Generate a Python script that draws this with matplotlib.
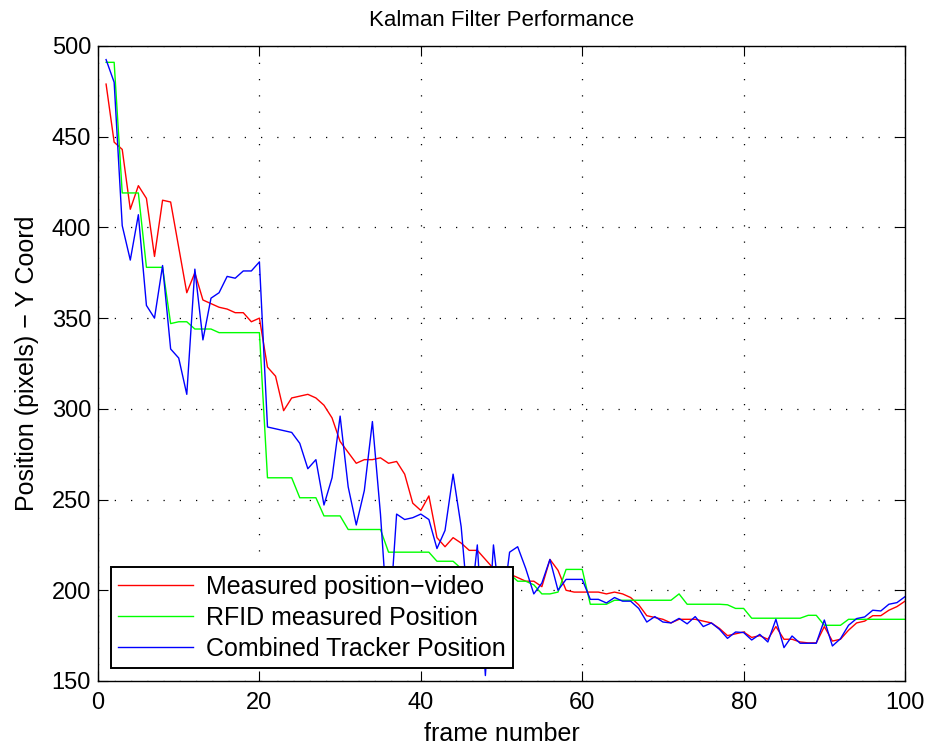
import numpy as np
import matplotlib
matplotlib.use("Agg")
import matplotlib.pyplot as plt

plt.rcParams['font.family'] = ['Liberation Sans', 'DejaVu Sans']

# ---- Data (frames 1..100) ----
frames = np.arange(1, 101)

measured_video = [
    479, 447, 443, 410, 423, 416, 384, 415, 414, 389,
    364, 375, 360, 358, 356, 355, 353, 353, 348, 350,
    323, 318, 299, 306, 307, 308, 306, 302, 295, 282,
    276, 270, 272, 272, 273, 270, 271, 264, 248, 244,
    252, 229, 224, 229, 226, 222, 222, 217, 212, 211,
    209, 207, 205, 205, 202, 217, 211, 200, 199, 199,
    199, 199, 198, 199, 198, 196, 192, 186, 185, 184,
    182, 184, 184, 184, 183, 182, 179, 175, 176, 177,
    174, 175, 173, 180, 173, 173, 171.5, 171, 171, 180,
    172, 173, 178, 182, 183, 186, 186, 189, 191, 194,
]

rfid_position = [
    491, 491, 419, 419, 419, 378, 378, 378, 347, 348,
    348, 344, 344, 344, 342, 342, 342, 342, 342, 342,
    262, 262, 262, 262, 251, 251, 251, 241, 241, 241,
    233.5, 233.5, 233.5, 233.5, 233.5, 221, 221, 221, 221, 221,
    221, 216, 216, 216, 212, 212, 212, 212, 212, 212,
    209, 205, 205, 203, 198, 198, 199, 211.5, 211.5, 211.5,
    192.3, 192.3, 192.3, 194.5, 194.5, 194.5, 194.5, 194.5, 194.5, 194.5,
    194.5, 198, 192.3, 192.3, 192.3, 192.3, 192.3, 192, 190, 190,
    184.6, 184.6, 184.6, 184.6, 184.6, 184.6, 184.6, 186.2, 186.2, 180.7,
    180.7, 180.7, 184, 184, 184, 184, 184, 184, 184, 184,
]

combined_tracker = [
    492.5, 480, 401, 382, 407, 357, 350, 379, 333, 328,
    308, 377, 338, 361, 364, 373, 372, 376, 376, 381,
    290, 289, 288, 287, 281, 267, 272, 247, 262, 296,
    257, 236, 255, 293, 242, 176, 242, 239, 240, 242,
    239, 223, 233, 264, 235, 184, 225, 153, 225, 186,
    221, 224, 212, 198, 204, 217, 200, 206, 206, 206,
    195, 195, 193, 196, 194, 194, 190, 182.5, 185.5, 182.5,
    182, 184.5, 181.5, 185.5, 180, 182, 178.5, 173.5, 177, 176.7,
    172.6, 175.7, 171.5, 184, 168.4, 174.8, 170.8, 170.8, 170.8, 183.6,
    169.3, 173.3, 180.7, 184.4, 185.3, 189, 188.6, 192.3, 193.2, 196.5,
]

# ---- Plot ----
fig = plt.figure(figsize=(9.29, 7.49), dpi=100)
ax = fig.add_axes([0.1055, 0.0908, 0.8687, 0.8478])

ax.plot(frames, measured_video, color='#ff0000', lw=1.0, label='Measured position\u2212video')
ax.plot(frames, rfid_position, color='#00ff00', lw=1.0, label='RFID measured Position')
ax.plot(frames, combined_tracker, color='#0000ff', lw=1.0, label='Combined Tracker Position')

ax.set_xlim(0, 100)
ax.set_ylim(150, 500)
ax.set_xticks(np.arange(0, 101, 20))
ax.set_yticks(np.arange(150, 501, 50))
ax.tick_params(direction='in', top=True, right=True, labelsize=17, length=7, pad=5)
ax.tick_params(axis='x', pad=8)
ax.grid(True, color='black', linestyle=(0, (1, 12)), linewidth=0.9)
for s in ax.spines.values():
    s.set_linewidth(1.0)

ax.set_xlabel('frame number', fontsize=18, labelpad=6)
ax.set_ylabel('Position (pixels) \u2212 Y Coord', fontsize=18, labelpad=9)
ax.set_title('Kalman Filter Performance', fontsize=16, pad=14.5)

leg = ax.legend(loc='lower left', bbox_to_anchor=(0.016, 0.02), borderaxespad=0,
                fontsize=18, fancybox=False, framealpha=1, edgecolor='black',
                handlelength=3.0, handletextpad=0.5, labelspacing=0.28,
                borderpad=0.3)
leg.get_frame().set_linewidth(1.4)

fig.savefig('out.png', dpi=100)
